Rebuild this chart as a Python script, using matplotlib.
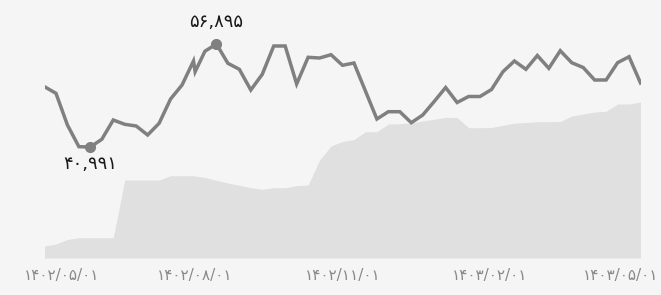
import matplotlib.pyplot as plt
import matplotlib.transforms as mtransforms

# day offsets from 1402/05/01 (weekly, plus one extra mid-week point)
days = [0, 7, 14, 21, 28, 35, 42, 49, 56, 63, 70, 77, 84, 91, 92,
        98, 105, 112, 119, 126, 133, 140, 147, 154, 161, 168, 175, 182,
        189, 196, 203, 210, 217, 224, 231, 238, 245, 252, 259, 266, 273,
        280, 287, 294, 301, 308, 315, 322, 329, 336, 343, 350, 357, 364]

price = [50302, 49283, 44388, 41037, 40991, 42180, 45160, 44496, 44233, 42844,
         44650, 48402, 50564, 54270, 52618, 55783, 56895, 53915, 52988, 49792,
         52216, 56586, 56586, 50719, 54841, 54733, 55243, 53606, 53961, 49638,
         45314, 46441, 46441, 44743, 45932, 48016, 50178, 47862, 48788, 48788,
         49869, 52618, 54270, 52988, 55119, 53143, 55860, 54007, 53266, 51336,
         51336, 54007, 54934, 50873]

volume = [12, 14, 18.5, 20.3, 20.3, 20.3, 20.3, 78, 78, 78,
          78, 82.3, 82.3, 82.3, 82, 80.5, 77.7, 75, 72.7, 70.4,
          68.7, 70.3, 70.3, 72.4, 73, 98, 112, 116.5, 118.5, 126.3,
          126.3, 134, 134.3, 135, 137, 138.7, 140.7, 140.5, 130.3, 130.3,
          130.5, 132.7, 134.8, 135.5, 136.3, 136.3, 136.5, 142, 144, 146,
          146.7, 154, 154, 156]

tick_days = [0, 92, 182, 272, 364]
tick_labels = ["1402/05/01", "1402/08/01", "1402/11/01", "1403/02/01", "1403/05/01"]

FA = str.maketrans("0123456789", "۰۱۲۳۴۵۶۷۸۹")
BG = "#f5f5f5"
LINE = "#808080"

fig = plt.figure(figsize=(6.61, 2.95), dpi=100, facecolor=BG)
ax = fig.add_axes([44.5 / 661, 37 / 295, 596 / 661, 228 / 295])
ax.set_facecolor(BG)
ax.fill_between(days, 0, volume, color="#e0e0e0", lw=0)
ax.set_xlim(0, 364)
ax.set_ylim(0, 228)

ax2 = ax.twinx()
ax2.plot(days, price, color=LINE, lw=2.5, solid_joinstyle="miter")
lo, hi = min(price), max(price)
span = hi - lo
ax2.set_ylim(lo - span * 111 / 103, hi + span * 14 / 103)

imax = price.index(hi)
imin = price.index(lo)
ax2.plot([days[imax], days[imin]], [hi, lo], "o", ms=7, color=LINE)
ax2.annotate(f"{hi:,}".translate(FA), (days[imax], hi), xytext=(0, 16),
             textcoords="offset points", ha="center", va="center",
             fontsize=13, color="#1a1a1a")
ax2.annotate(f"{lo:,}".translate(FA), (days[imin], lo), xytext=(0, -12.5),
             textcoords="offset points", ha="center", va="center",
             fontsize=13, color="#1a1a1a")

for a in (ax, ax2):
    for s in a.spines.values():
        s.set_visible(False)
    a.set_yticks([])

ax.set_xticks(tick_days, [t.translate(FA) for t in tick_labels])
ax.tick_params(axis="x", length=0, pad=7, labelsize=11, labelcolor="#8a8a8a")
labels = ax.get_xticklabels()
labels[0].set_transform(labels[0].get_transform() +
                        mtransforms.ScaledTranslation(17 / 100, 0, fig.dpi_scale_trans))
labels[-1].set_transform(labels[-1].get_transform() +
                         mtransforms.ScaledTranslation(-20 / 100, 0, fig.dpi_scale_trans))

fig.savefig("out.png", dpi=100, facecolor=BG)
